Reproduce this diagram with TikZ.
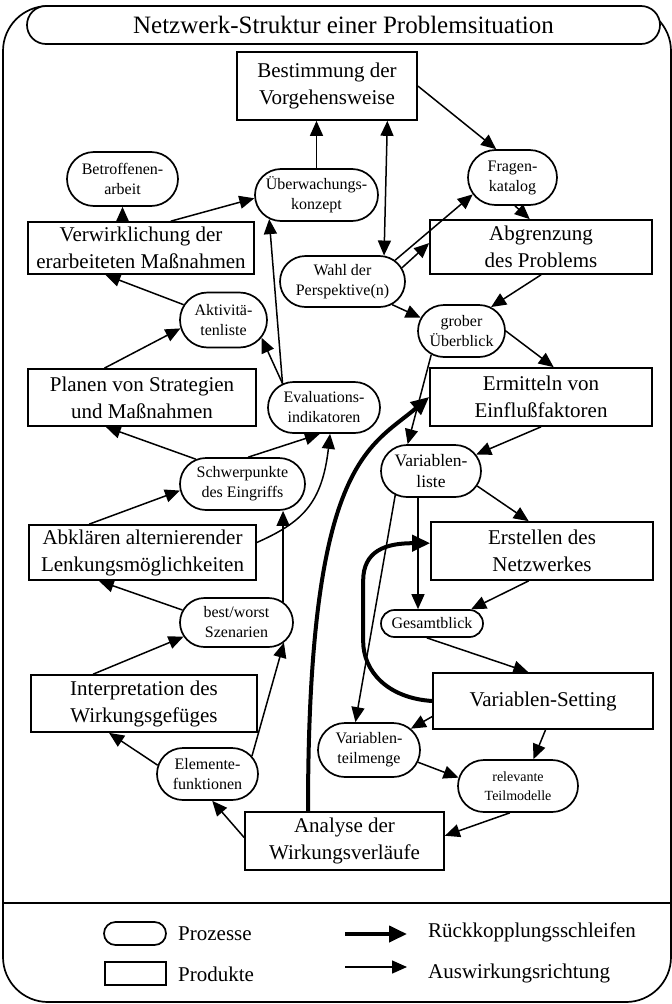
\documentclass[tikz,border=0pt]{standalone}
\usepackage{fontspec}
\setmainfont{Liberation Serif}
\usepackage{tikz}
\usetikzlibrary{arrows.meta}
\usetikzlibrary{shapes.misc}

\begin{document}
\begin{tikzpicture}[x=1pt, y=1pt,
    prod/.style={draw=black, line width=1.7pt, rectangle, align=center, inner sep=0pt,
      minimum height=55pt, font=\fontsize{21}{27}\selectfont},
    proz/.style={draw=black, line width=1.7pt, rounded rectangle, align=center, inner sep=0pt,
      font=\fontsize{16}{20}\selectfont},
    wirk/.style={line width=1.5pt, -{Triangle[length=15pt,width=13pt]}},
    wechsel/.style={wirk, {Triangle[length=15pt,width=13pt]}-{Triangle[length=15pt,width=13pt]}},
    rueck/.style={line width=4pt, -{Triangle[length=18pt,width=16pt]}},
    legtext/.style={anchor=west, inner sep=0pt, font=\fontsize{21}{27}\selectfont}]
    \useasboundingbox (0,0) rectangle (672,-1004);

    % Rahmen
    \draw[line width=1.7pt, rounded corners=45pt] (3,-6) rectangle (671,-1002);
    \draw[line width=1.7pt] (3,-903) -- (671,-903);
    \node[proz, minimum width=633pt, minimum height=38pt, fill=white,
      font=\fontsize{25}{30}\selectfont] (titel) at (343.5,-25) {Netzwerk-Struktur einer Problemsituation};

    % Knoten
    \node[prod, minimum width=180pt, minimum height=68pt] (vorg) at (327,-86) {Bestimmung der\\Vorgehensweise};
    \node[proz, minimum width=111pt, minimum height=54pt] (betr) at (122.5,-179) {Betroffenen-\\arbeit};
    \node[proz, minimum width=123pt, minimum height=52pt] (ueber) at (316.5,-195) {Überwachungs-\\konzept};
    \node[proz, minimum width=89pt, minimum height=55pt] (frag) at (512.5,-177.5) {Fragen-\\katalog};
    \node[prod, minimum width=226pt, minimum height=52pt] (verw) at (141,-248) {Verwirklichung der\\erarbeiteten Maßnahmen};
    \node[prod, minimum width=222pt, minimum height=54pt] (abgr) at (541,-247) {Abgrenzung\\des Problems};
    \node[proz, minimum width=125pt, minimum height=51pt] (wahl) at (342.5,-281.5) {Wahl der\\Perspektive(n)};
    \node[proz, minimum width=87pt, minimum height=55pt] (akt) at (223.5,-320) {Aktivitä-\\tenliste};
    \node[proz, minimum width=87pt, minimum height=52pt] (grob) at (461.5,-331) {grober\\Überblick};
    \node[prod, minimum width=228pt, minimum height=57pt] (plan) at (142,-397.5) {Planen von Strategien\\und Maßnahmen};
    \node[proz, minimum width=112pt, minimum height=51pt] (eval) at (324,-407.5) {Evaluations-\\indikatoren};
    \node[prod, minimum width=222pt, minimum height=58pt] (ermi) at (541,-397) {Ermitteln von\\Einflußfaktoren};
    \node[proz, minimum width=125pt, minimum height=52pt] (schw) at (242.5,-484) {Schwerpunkte\\des Eingriffs};
    \node[proz, minimum width=100pt, minimum height=52pt, font=\fontsize{17.5}{21}\selectfont] (vlist) at (431,-471) {Variablen-\\liste};
    \node[prod, minimum width=227pt, minimum height=55pt] (abkl) at (142.5,-552.5) {Abklären alternierender\\Lenkungsmöglichkeiten};
    \node[prod, minimum width=222pt, minimum height=58pt] (erst) at (542,-551) {Erstellen des\\Netzwerkes};
    \node[proz, minimum width=113pt, minimum height=49pt] (bw) at (236.5,-622.5) {best/worst\\Szenarien};
    \node[proz, minimum width=102pt, minimum height=27pt] (gesamt) at (432,-623.5) {Gesamtblick};
    \node[prod, minimum width=226pt, minimum height=57pt] (interp) at (144,-703.5) {Interpretation des\\Wirkungsgefüges};
    \node[prod, minimum width=220pt, minimum height=56pt] (sett) at (543,-701) {Variablen-Setting};
    \node[proz, minimum width=102pt, minimum height=54pt] (vteil) at (369,-750) {Variablen-\\teilmenge};
    \node[proz, minimum width=101pt, minimum height=52pt] (elem) at (207.5,-774) {Elemente-\\funktionen};
    \node[proz, minimum width=120pt, minimum height=52pt, font=\fontsize{14}{19}\selectfont] (relev) at (518,-786) {relevante\\Teilmodelle};
    \node[prod, minimum width=199pt, minimum height=58pt] (anal) at (344.5,-841) {Analyse der\\Wirkungsverläufe};

    % Auswirkungen
    \path [wirk] (ueber.north) edge (ueber.north |- vorg.south);
    \path [wechsel] (vorg.-30) edge (wahl.32);
    \path [wirk] (vorg.east) edge (frag.120);
    \path [wirk] (wahl.22) edge (frag.203);
    \path [wirk] (frag.-85) edge (abgr.112);
    \path [wirk] (wahl.13) edge (abgr.178);
    \path [wirk] (wahl.-25) edge (grob.162);
    \path [wirk] (abgr.south) edge (grob.39);
    \path [wirk] (grob.east) edge (ermi.67);
    \path [wirk] (grob.-142) edge (vlist.131);
    \path [wirk] (ermi.south) edge (vlist.20);
    \path [wirk] (vlist.-18) edge (erst.114);
    \path [wirk] ([xshift=-13pt]vlist.south) edge ([xshift=-13pt]vlist.south |- gesamt.north);
    \path [wirk] (vlist.-146) edge (vteil.116);
    \path [wirk] (erst.-114) edge (gesamt.20);
    \path [wirk] (gesamt.-110) edge (sett.117);
    \path [wirk] (sett.188) edge (vteil.27);
    \path [wirk] (sett.-85) edge (relev.60);
    \path [wirk] (vteil.-14) edge (relev.172);
    \path [wirk] (relev.-107) edge (anal.3);
    \path [wirk] (anal.178) edge (elem.-80);
    \path [wirk] (elem.170) edge (interp.-140);
    \path [wirk] (elem.22) edge (bw.-23);
    \path [wirk] (interp.150) edge (bw.195);
    \path [wirk] (bw.167) edge (abkl.-147);
    \path [wirk] (bw.24) edge (bw.24 |- schw.south);
    \path [wirk] (abkl.152) edge (schw.186);
    \draw [wirk] (abkl.5) .. controls +(45,20) and +(-8,-70) .. (eval.-77);
    \path [wirk] (schw.78) edge (eval.-99);
    \path [wirk] (schw.152) edge (plan.-141);
    \path [wirk] (eval.150) edge (akt.-25);
    \path [wirk] (eval.150) edge (ueber.-153);
    \path [wirk] (plan.142) edge (akt.191);
    \path [wirk] (akt.159) edge (verw.-143);
    \path [wirk] (verw.42) edge (ueber.183);
    \path [wirk] (betr.south |- verw.north) edge (betr.south);

    % Rueckkopplungen
    \draw [rueck] ([xshift=-36.5pt]anal.north) .. controls +(0,350) and +(-60,-51) .. (ermi.west);
    \draw [rueck] (sett.west) .. controls +(-45,3) and +(0,-30) .. ++(-69,60) -- ++(0,60)
      .. controls +(0,30) and +(-45,0) .. (erst.176);

    % Legende
    \node[proz, minimum width=62pt, minimum height=23pt] (lproz) at (135,-933.5) {};
    \node[prod, minimum width=61pt, minimum height=23pt] (lprod) at (135.5,-973.5) {};
    \node[legtext] (tproz) at (178,-934) {Prozesse};
    \node[legtext] (tprod) at (178,-974) {Produkte};
    \coordinate (rA) at (345,-934);
    \coordinate (rB) at (407,-934);
    \coordinate (wA) at (345,-967);
    \coordinate (wB) at (407,-967);
    \path [rueck] (rA) edge (rB);
    \path [wirk] (wA) edge (wB);
    \node[legtext] (trueck) at (428,-932) {Rückkopplungsschleifen};
    \node[legtext] (twirk) at (428,-973) {Auswirkungsrichtung};
\end{tikzpicture}
\end{document}
